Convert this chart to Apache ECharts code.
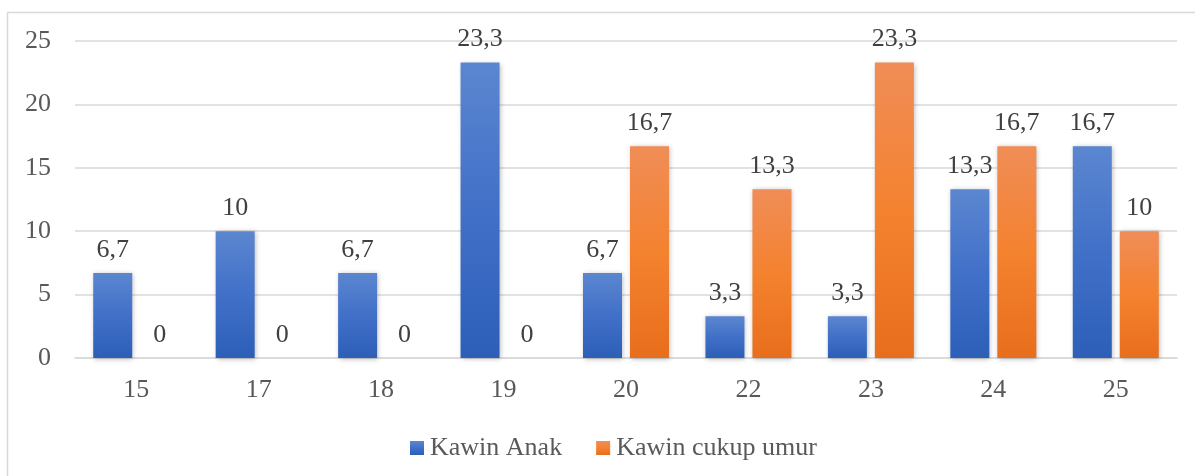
<!DOCTYPE html>
<html>
<head>
<meta charset="utf-8">
<style>
  html, body { margin: 0; padding: 0; background: #ffffff; }
  #chart { width: 1195px; height: 476px; }
</style>
<script src="https://cdn.jsdelivr.net/npm/echarts@6/dist/echarts.min.js"></script>
</head>
<body>
<div id="chart"></div>
<script>
// Age at marriage (years) and share of respondents (%)
const ages = ['15', '17', '18', '19', '20', '22', '23', '24', '25'];
const kawinAnak = [6.7, 10, 6.7, 23.3, 6.7, 3.3, 3.3, 13.3, 16.7];
const kawinCukupUmur = [0, 0, 0, 0, 16.7, 13.3, 23.3, 16.7, 10];
const seriesNames = ['Kawin Anak', 'Kawin cukup umur'];

const FONT = '"Liberation Serif", "Times New Roman", serif';
const TEXT = '#595959';
const SIZE = 26;

function grad(top, mid, bottom) {
  return new echarts.graphic.LinearGradient(0, 0, 0, 1, [
    { offset: 0, color: top },
    { offset: 0.5, color: mid },
    { offset: 1, color: bottom }
  ]);
}

const valueLabel = {
  show: true,
  position: 'top',
  distance: 10,
  fontFamily: FONT,
  fontSize: SIZE,
  color: '#404040',
  formatter: p => String(p.value).replace('.', ',')
};

const chart = echarts.init(document.getElementById('chart'), null, { renderer: 'canvas' });
chart.setOption({
  animation: false,
  backgroundColor: '#ffffff',
  graphic: [{
    type: 'rect',
    silent: true,
    z: -10,
    shape: { x: 7.5, y: 12.5, width: 1400, height: 800 },
    style: { fill: 'none', stroke: '#d9d9d9', lineWidth: 1.5 }
  }],
  grid: { left: 75, right: 18, top: 41, bottom: 118, containLabel: false },
  legend: {
    data: seriesNames,
    top: 430,
    left: 405,
    itemWidth: 14,
    itemHeight: 14,
    itemGap: 34,
    icon: 'rect',
    textStyle: { fontFamily: FONT, fontSize: SIZE, color: TEXT, padding: [0, 0, 0, 1] }
  },
  xAxis: {
    type: 'category',
    data: ages,
    axisLine: { show: true, lineStyle: { color: '#d9d9d9', width: 1.5 } },
    axisTick: { show: false },
    axisLabel: { fontFamily: FONT, fontSize: SIZE, color: TEXT, margin: 19 }
  },
  yAxis: {
    type: 'value',
    min: 0,
    max: 25,
    interval: 5,
    axisLine: { show: false },
    axisTick: { show: false },
    splitLine: { lineStyle: { color: '#d9d9d9', width: 1.5 } },
    axisLabel: { fontFamily: FONT, fontSize: SIZE, color: TEXT, margin: 24 }
  },
  series: [
    {
      name: seriesNames[0],
      type: 'bar',
      data: kawinAnak,
      barWidth: 39,
      barGap: '20.5%',
      itemStyle: {
        color: grad('#5b86d0', '#4170c8', '#2d5fb8'),
        shadowColor: 'rgba(0,0,0,0.28)',
        shadowBlur: 5,
        shadowOffsetX: 1,
        shadowOffsetY: 1
      },
      label: valueLabel
    },
    {
      name: seriesNames[1],
      type: 'bar',
      data: kawinCukupUmur,
      barWidth: 39,
      itemStyle: {
        color: grad('#f08d57', '#f4822f', '#e86e1c'),
        shadowColor: 'rgba(0,0,0,0.28)',
        shadowBlur: 5,
        shadowOffsetX: 1,
        shadowOffsetY: 1
      },
      label: valueLabel
    }
  ]
});
</script>
</body>
</html>
